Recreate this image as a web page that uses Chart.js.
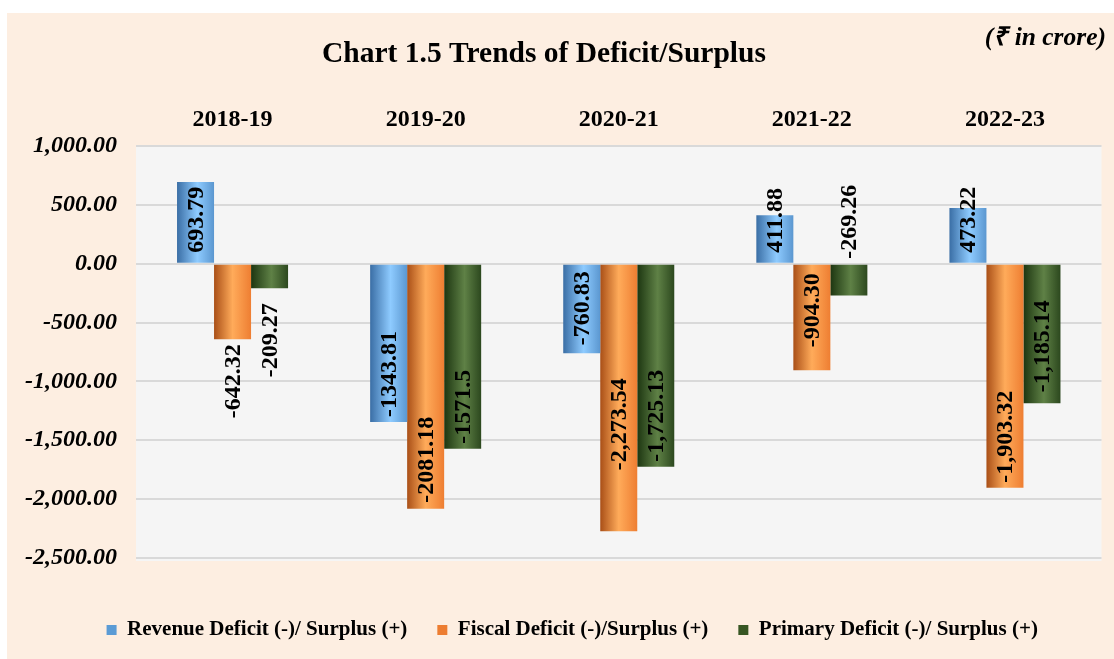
<!DOCTYPE html>
<html>
<head>
<meta charset="utf-8">
<script src="https://cdn.jsdelivr.net/npm/chart.js@4.4.1/dist/chart.umd.min.js"></script>
<style>
  body { margin: 0; background: #fff; }
  #wrap { position: absolute; left: 7px; top: 13px; width: 1107px; height: 646px; background: #fdeee1; }
</style>
</head>
<body>
<div id="wrap"><canvas id="deficit"></canvas></div>
<script>
const years = ['2018-19', '2019-20', '2020-21', '2021-22', '2022-23'];
const revenue = [693.79, -1343.81, -760.83, 411.88, 473.22];
const fiscal = [-642.32, -2081.18, -2273.54, -904.30, -1903.32];
const primary = [-209.27, -1571.5, -1725.13, -269.26, -1185.14];
// the report prints the later years with thousands separators
const withCommas = [false, false, true, true, true];
const seriesNames = ['Revenue Deficit (-)/ Surplus (+)', 'Fiscal Deficit (-)/Surplus (+)', 'Primary Deficit (-)/ Surplus (+)'];

const serif = '"Liberation Serif", "Times New Roman", serif';
const flatColors = ['#5b9bd5', '#ed7d31', '#375623'];
const shades = [
    [[0, '#3a6ea5'], [0.55, '#8ecbff'], [1, '#5b97d0']],
    [[0, '#a94f17'], [0.5, '#ffab5a'], [1, '#ee7e32']],
    [[0, '#1d3611'], [0.55, '#5f8146'], [1, '#2c481e']]
];
const catPct = 0.575;

// where each value label sits: [mode, gap in px]
const labelSpots = [
    [['base', 11], ['end', 5], ['end', 8], ['base', 11], ['base', 11]],
    [['out', 5], ['end', 6], ['end', 61], ['end', 23], ['end', 5]],
    [['out', 15], ['end', 5], ['end', 5], ['base', 5], ['end', 11]]
];

function fmt(v, i) {
    if (!withCommas[i]) return String(v);
    return v.toLocaleString('en-US', { minimumFractionDigits: 2, maximumFractionDigits: 2 });
}

function barFill(c) {
    const di = c.datasetIndex;
    const xs = c.chart.scales.x;
    if (c.type !== 'data' || !xs) return flatColors[di];
    const w = xs.width / years.length * catPct / 3;
    const cx = xs.getPixelForValue(c.dataIndex) + (di - 1) * w;
    const g = c.chart.ctx.createLinearGradient(cx - w / 2, 0, cx + w / 2, 0);
    shades[di].forEach(([o, col]) => g.addColorStop(o, col));
    return g;
}

const plotBg = {
    id: 'plotBg',
    beforeDraw(chart) {
        const { ctx, chartArea: a } = chart;
        ctx.save();
        ctx.fillStyle = '#f5f5f5';
        ctx.fillRect(a.left, a.top, a.right - a.left, a.bottom - a.top + 3);
        ctx.restore();
    }
};

// legend sits a little right of the canvas middle in the original
const legendShift = {
    id: 'legendShift',
    afterLayout(chart) {
        if (!chart.legend) return;
        chart.legend.left += 13;
        chart.legend.right += 13;
    }
};

const header = {
    id: 'header',
    afterDraw(chart) {
        const ctx = chart.ctx;
        ctx.save();
        ctx.fillStyle = '#000';
        ctx.textBaseline = 'middle';
        ctx.textAlign = 'center';
        ctx.font = 'bold 29.5px ' + serif;
        ctx.fillText('Chart 1.5 Trends of Deficit/Surplus', 537, 41);
        ctx.textAlign = 'right';
        ctx.font = 'italic bold 25.5px ' + serif;
        ctx.fillText('(₹ in crore)', 1099, 25);
        ctx.restore();
    }
};

const barLabels = {
    id: 'barLabels',
    afterDatasetsDraw(chart) {
        const ctx = chart.ctx;
        const y0 = chart.scales.y.getPixelForValue(0);
        ctx.save();
        ctx.font = 'bold 24px ' + serif;
        ctx.fillStyle = '#000';
        ctx.textAlign = 'left';
        ctx.textBaseline = 'middle';
        chart.data.datasets.forEach((ds, di) => {
            chart.getDatasetMeta(di).data.forEach((bar, i) => {
                const txt = fmt(ds.data[i], i);
                const w = ctx.measureText(txt).width;
                const [mode, gap] = labelSpots[di][i];
                let bottom;
                if (mode === 'base') bottom = y0 - gap;
                else if (mode === 'end') bottom = bar.y - gap;
                else bottom = bar.y + gap + w;
                ctx.save();
                ctx.translate(bar.x + 1, bottom);
                ctx.rotate(-Math.PI / 2);
                ctx.fillText(txt, 0, 0);
                ctx.restore();
            });
        });
        ctx.restore();
    }
};

const grfc = document.getElementById('deficit');

const barStyle = {
    backgroundColor: barFill,
    borderWidth: 0,
    barPercentage: 1,
    categoryPercentage: catPct
};

new Chart(grfc, {
    type: 'bar',
    data: {
        labels: years,
        datasets: [
            { label: seriesNames[0], data: revenue, ...barStyle },
            { label: seriesNames[1], data: fiscal, ...barStyle },
            { label: seriesNames[2], data: primary, ...barStyle }
        ]
    },
    options: {
        responsive: true,
        maintainAspectRatio: false,
        animation: false,
        layout: {
            padding: { left: 10, right: 12.5, top: 88.2, bottom: 8.5 }
        },
        scales: {
            x: {
                position: 'top',
                grid: { display: false },
                border: { display: false },
                ticks: {
                    padding: 4,
                    color: '#000',
                    font: { family: serif, size: 24, weight: 'bold' }
                }
            },
            gap: {
                axis: 'x',
                type: 'category',
                position: 'bottom',
                grid: { display: false },
                border: { display: false },
                ticks: { display: false },
                afterFit: s => { s.height = 31.5; }
            },
            y: {
                min: -2500,
                max: 1000,
                grid: { color: '#d9d9d9', lineWidth: 2, drawTicks: false },
                border: { display: false },
                afterFit: s => { s.width = 119; },
                ticks: {
                    stepSize: 500,
                    padding: 19,
                    color: '#000',
                    font: { family: serif, size: 24, weight: 'bold', style: 'italic' },
                    callback: v => v.toLocaleString('en-US', { minimumFractionDigits: 2, maximumFractionDigits: 2 })
                }
            }
        },
        plugins: {
            title: { display: false },
            tooltip: { enabled: false },
            legend: {
                position: 'bottom',
                labels: {
                    boxWidth: 10,
                    boxHeight: 10,
                    padding: 30,
                    color: '#000',
                    font: { family: serif, size: 21, weight: 'bold' },
                    generateLabels: chart => chart.data.datasets.map((ds, i) => ({
                        text: ds.label,
                        fillStyle: flatColors[i],
                        strokeStyle: flatColors[i],
                        lineWidth: 0,
                        hidden: false,
                        datasetIndex: i
                    }))
                }
            }
        }
    },
    plugins: [plotBg, legendShift, barLabels, header]
});
</script>
</body>
</html>
